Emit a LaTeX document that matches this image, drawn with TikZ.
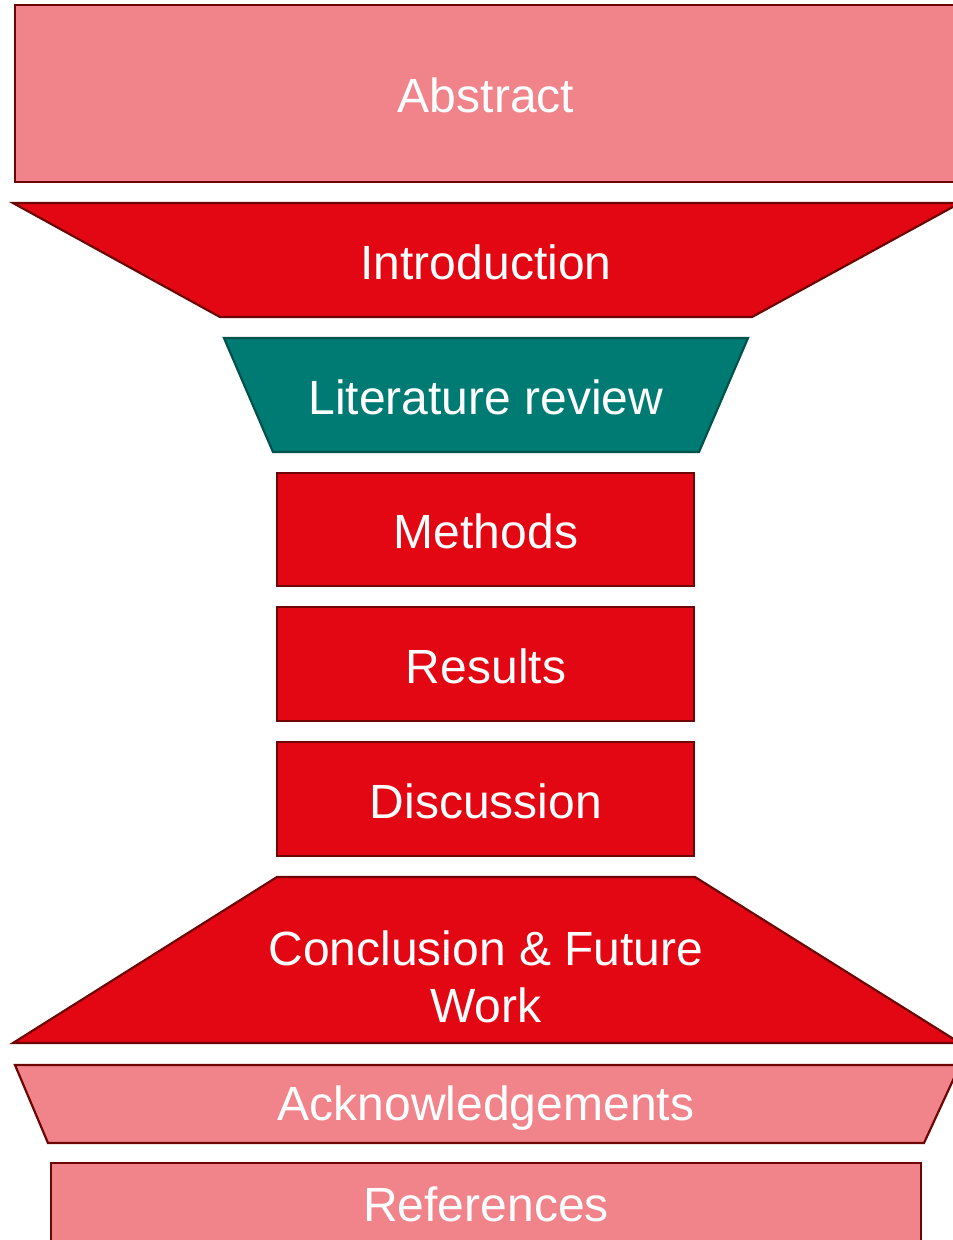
\documentclass[tikz,border=0pt]{standalone}
\usepackage{fontspec}
\setmainfont{Liberation Sans}
\definecolor{lightred}{HTML}{F0848A}
\definecolor{brightred}{HTML}{E30613}
\definecolor{darkteal}{HTML}{007B73}
\definecolor{edgered}{HTML}{6E0505}
\definecolor{edgeteal}{HTML}{02524C}
\tikzset{
  pinkpart/.style={fill=lightred,draw=edgered,line width=2.2pt,line join=miter},
  redpart/.style={fill=brightred,draw=edgered,line width=2.2pt,line join=miter},
  tealpart/.style={fill=darkteal,draw=edgeteal,line width=2.2pt,line join=miter},
  parttext/.style={text=white,font=\fontsize{48}{57}\selectfont,align=center,inner sep=0pt}
}
\begin{document}
\begin{tikzpicture}[x=1pt,y=-1pt]
\useasboundingbox (0,0) rectangle (953,1240);
\clip (0,0) rectangle (953,1240);

% the top box
\draw[pinkpart] (15,5) rectangle (980,182);
\node[parttext] (abstract) at (486,95) {Abstract};

% the funnel going in
\draw[redpart] (13,203) -- (960,203) -- (752,317) -- (220,317) -- cycle;
\node[parttext] (intro) at (486,262) {Introduction};
\draw[tealpart] (224,338) -- (748,338) -- (699,452) -- (273,452) -- cycle;
\node[parttext] (litrev) at (486,397) {Literature review};

% the middle column
\draw[redpart] (277,473) rectangle (694,586);
\node[parttext] (methods) at (486,531) {Methods};
\draw[redpart] (277,607) rectangle (694,721);
\node[parttext] (results) at (486,666) {Results};
\draw[redpart] (277,742) rectangle (694,856);
\node[parttext] (discussion) at (486,801) {Discussion};

% the funnel going out
\draw[redpart] (277,877) -- (695,877) -- (960,1043) -- (13,1043) -- cycle;
\node[parttext] (conclusion) at (486,977) {Conclusion \& Future\\Work};

% the bottom parts
\draw[pinkpart] (15,1065) -- (960,1065) -- (924,1143) -- (48,1143) -- cycle;
\node[parttext] (acknow) at (486,1108) {Acknowledgements};
\draw[pinkpart] (51,1163) rectangle (921,1270);
\node[parttext] (refs) at (486,1204) {References};
\end{tikzpicture}
\end{document}
